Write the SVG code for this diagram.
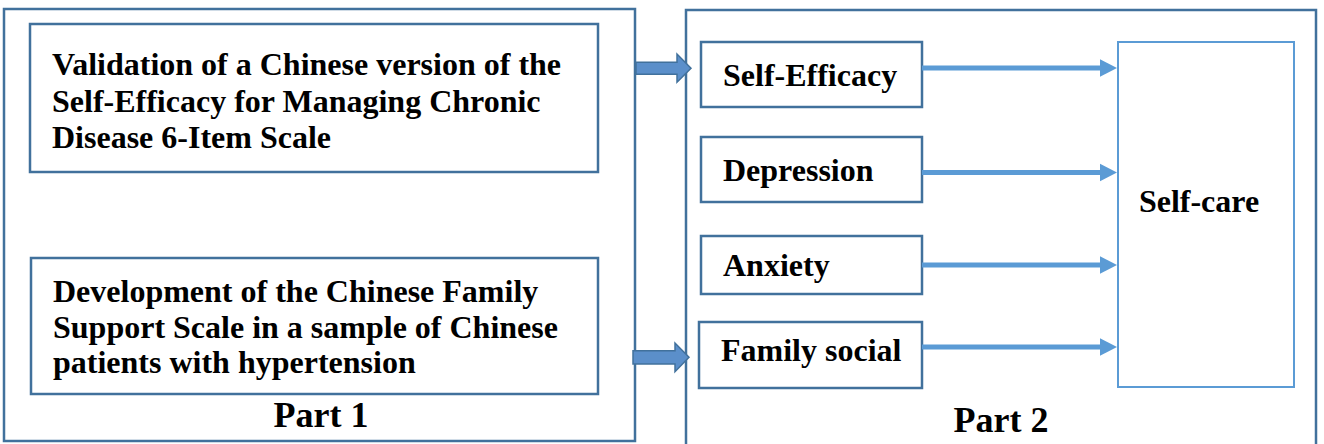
<svg xmlns="http://www.w3.org/2000/svg" width="1324" height="444" viewBox="0 0 1324 444">
<style>
.frame{fill:#ffffff;stroke:#41719c;stroke-width:2.5}
.box{fill:#ffffff;stroke:#41719c;stroke-width:2.5}
.lbox{fill:#ffffff;stroke:#5b9bd5;stroke-width:2}
.t{font-family:'Liberation Serif','Times New Roman',serif;font-weight:bold;font-size:32px;fill:#000000}
.big{font-family:'Liberation Serif','Times New Roman',serif;font-weight:bold;font-size:36px;fill:#000000;text-anchor:middle}
.conn{stroke:#5b9bd5;stroke-width:5;fill:none}
.head{fill:#5b9bd5;stroke:none}
.block{fill:#5b8fca;stroke:#41719c;stroke-width:1.5}
</style>
<rect width="1324" height="444" fill="#ffffff"/>
<g id="part1">
<rect class="frame" x="4" y="9" width="631" height="432"/>
<text class="big" x="321" y="427">Part 1</text>
</g>
<g id="part2">
<rect class="frame" x="686" y="10" width="630" height="440"/>
<text class="big" x="1001" y="432">Part 2</text>
</g>
<g id="validation">
<rect class="box" x="30" y="24" width="568" height="148"/>
<text class="t" x="52" y="75">Validation of a Chinese version of the</text>
<text class="t" x="52" y="112">Self-Efficacy for Managing Chronic</text>
<text class="t" x="52" y="148">Disease 6-Item Scale</text>
</g>
<g id="development">
<rect class="box" x="31" y="258" width="567" height="136"/>
<text class="t" x="53" y="302">Development of the Chinese Family</text>
<text class="t" x="53" y="338">Support Scale in a sample of Chinese</text>
<text class="t" x="53" y="373">patients with hypertension</text>
</g>
<g id="self-efficacy">
<rect class="box" x="701" y="42" width="221" height="65"/>
<text class="t" x="723" y="86">Self-Efficacy</text>
</g>
<g id="depression">
<rect class="box" x="701" y="137" width="221" height="65"/>
<text class="t" x="723" y="181">Depression</text>
</g>
<g id="anxiety">
<rect class="box" x="701" y="236" width="221" height="58"/>
<text class="t" x="723" y="276">Anxiety</text>
</g>
<g id="family-social">
<rect class="box" x="699" y="322" width="223" height="66"/>
<text class="t" x="721" y="361">Family social</text>
</g>
<g id="self-care">
<rect class="lbox" x="1118" y="42" width="176" height="345"/>
<text class="t" x="1199" y="212" text-anchor="middle">Self-care</text>
</g>
<g id="connectors">
<polygon class="block" points="636,62.3 677,62.3 677,54 691,68.2 677,82.3 677,74.3 636,74.3"/>
<polygon class="block" points="633,350.7 675,350.7 675,343 689,357.3 675,371.7 675,364 633,364"/>
<line class="conn" x1="922" y1="68" x2="1102" y2="68"/>
<polygon class="head" points="1100,59.3 1117,68 1100,76.7"/>
<line class="conn" x1="922" y1="172.5" x2="1102" y2="172.5"/>
<polygon class="head" points="1100,163.8 1117,172.5 1100,181.2"/>
<line class="conn" x1="922" y1="265" x2="1102" y2="265"/>
<polygon class="head" points="1100,256.3 1117,265 1100,273.7"/>
<line class="conn" x1="922" y1="347" x2="1102" y2="347"/>
<polygon class="head" points="1100,338.3 1117,347 1100,355.7"/>
</g>
</svg>
